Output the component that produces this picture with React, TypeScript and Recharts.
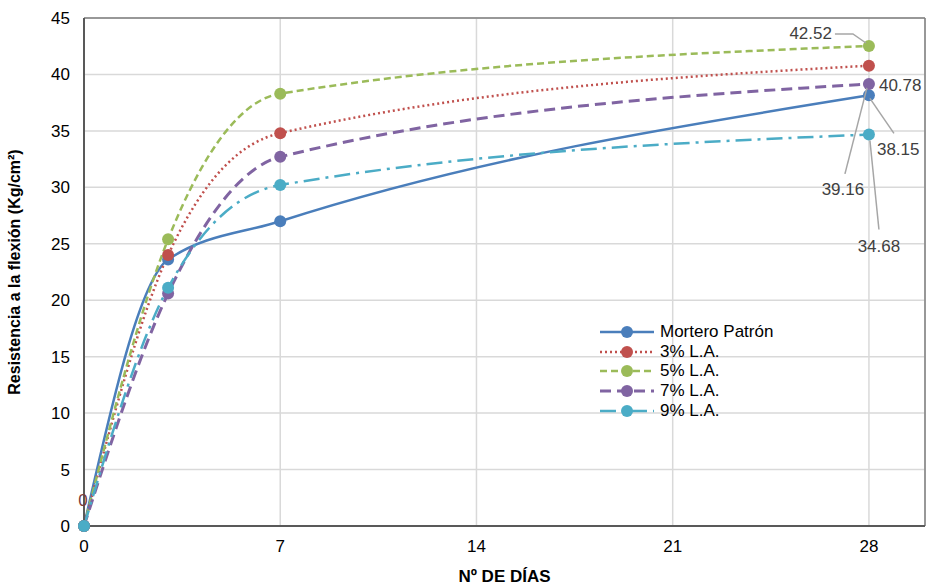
import { LineChart, Line, XAxis, YAxis, CartesianGrid, ReferenceLine, LabelList } from "recharts";

const dias = [0, 3, 7, 28];
const morteroPatron = [0, 23.6, 27.0, 38.15];
const la3 = [0, 24.0, 34.8, 40.78];
const la5 = [0, 25.4, 38.3, 42.52];
const la7 = [0, 20.6, 32.7, 39.16];
const la9 = [0, 21.1, 30.2, 34.68];
const xTicks = [0, 7, 14, 21, 28];
const yTicks = [0, 5, 10, 15, 20, 25, 30, 35, 40, 45];

const data = dias.map((d, i) => ({
  dia: d,
  patron: morteroPatron[i],
  la3: la3[i],
  la5: la5[i],
  la7: la7[i],
  la9: la9[i],
}));

const FONT = "'Liberation Sans', Arial, sans-serif";

const series = [
  { key: "patron", name: "Mortero Patrón", color: "#4a7ebb", dash: undefined, width: 2.5 },
  { key: "la3", name: "3% L.A.", color: "#c0504d", dash: "2 3", width: 2.5 },
  { key: "la5", name: "5% L.A.", color: "#9bbb59", dash: "7 4", width: 2.5 },
  { key: "la7", name: "7% L.A.", color: "#8064a2", dash: "11 6", width: 3 },
  { key: "la9", name: "9% L.A.", color: "#4bacc6", dash: "16 6 3 6", width: 2.5 },
];

// label offsets relative to the last point (text centre + leader line)
const labelPos: Record<string, { dx: number; dy: number; anchor: string; leader?: number[][] }> = {
  la5: { dx: -37, dy: -12, anchor: "end", leader: [[-34, -12], [-16, -12], [-3, -3]] },
  la3: { dx: 10, dy: 20, anchor: "start" },
  patron: { dx: 8, dy: 54, anchor: "start", leader: [[25, 38], [1, 3]] },
  la7: { dx: -26, dy: 106, anchor: "middle", leader: [[-24, 90], [-2, 4]] },
  la9: { dx: 10, dy: 112, anchor: "middle", leader: [[10, 95], [1, 6]] },
};

const makeLabel = (key: string) => (props: any) => {
  const { x, y, value, index } = props;
  if (key === "la3" && index === 0) {
    return (
      <text x={x - 1} y={y - 26} textAnchor="middle" dominantBaseline="central" fill="#7a3b3b" fontSize={17} fontFamily={FONT}>
        {value}
      </text>
    );
  }
  if (index !== dias.length - 1) return null;
  const p = labelPos[key];
  return (
    <g>
      {p.leader && (
        <polyline
          points={p.leader.map(([a, b]) => `${x + a},${y + b}`).join(" ")}
          fill="none"
          stroke="#a6a6a6"
          strokeWidth={1.5}
        />
      )}
      <text x={x + p.dx} y={y + p.dy} textAnchor={p.anchor} dominantBaseline="central" fill="#404040" fontSize={17} fontFamily={FONT}>
        {value.toFixed(2)}
      </text>
    </g>
  );
};

const ChartLegend = () => (
  <div style={{ position: "absolute", left: 598, top: 322, fontFamily: FONT, fontSize: 17, color: "#000" }}>
    {series.map((s) => (
      <div key={s.key} style={{ display: "flex", alignItems: "center", height: 19.7 }}>
        <svg width={62} height={16}>
          <line x1={2} y1={8} x2={56} y2={8} stroke={s.color} strokeWidth={s.width} strokeDasharray={s.dash} />
          <circle cx={29} cy={8} r={6} fill={s.color} />
        </svg>
        <span>{s.name}</span>
      </div>
    ))}
  </div>
);

export default function App() {
  return (
    <div style={{ position: "absolute", left: 0, top: 0, width: 927, height: 587, background: "#fff" }}>
      <LineChart width={927} height={587} data={data} margin={{ top: 18, right: 2, bottom: 0, left: 0 }}>
        <CartesianGrid stroke="#d9d9d9" strokeWidth={1.5} />
        <XAxis
          dataKey="dia"
          type="number"
          domain={[0, 30]}
          ticks={xTicks}
          tickLine={false}
          axisLine={{ stroke: "#595959", strokeWidth: 2 }}
          tick={{ fill: "#000", fontSize: 17, fontFamily: FONT }}
          tickMargin={8}
          label={{ value: "Nº DE DÍAS", position: "insideBottom", offset: 5, fill: "#000", fontSize: 17, fontWeight: "bold", fontFamily: FONT }}
          height={61}
        />
        <YAxis
          type="number"
          domain={[0, 45]}
          ticks={yTicks}
          tickLine={false}
          axisLine={{ stroke: "#595959", strokeWidth: 2 }}
          tick={{ fill: "#000", fontSize: 17, fontFamily: FONT }}
          tickMargin={8}
          width={84}
          label={{
            value: "Resistencia a la flexión (Kg/cm²)",
            angle: -90,
            position: "insideLeft",
            offset: 14,
            style: { textAnchor: "middle" },
            fill: "#000",
            fontSize: 16,
            fontWeight: "bold",
            fontFamily: FONT,
          }}
        />
        <ReferenceLine y={45} stroke="#7f7f7f" strokeWidth={1.5} />
        <ReferenceLine x={30} stroke="#7f7f7f" strokeWidth={1.5} />
        {series.map((s) => (
          <Line
            key={s.key}
            type="monotone"
            dataKey={s.key}
            name={s.name}
            stroke={s.color}
            strokeWidth={s.width}
            strokeDasharray={s.dash}
            dot={{ r: 6, fill: s.color, stroke: s.color, strokeWidth: 0 }}
            activeDot={false}
            isAnimationActive={false}
          >
            <LabelList dataKey={s.key} content={makeLabel(s.key)} />
          </Line>
        ))}
      </LineChart>
      <ChartLegend />
    </div>
  );
}
